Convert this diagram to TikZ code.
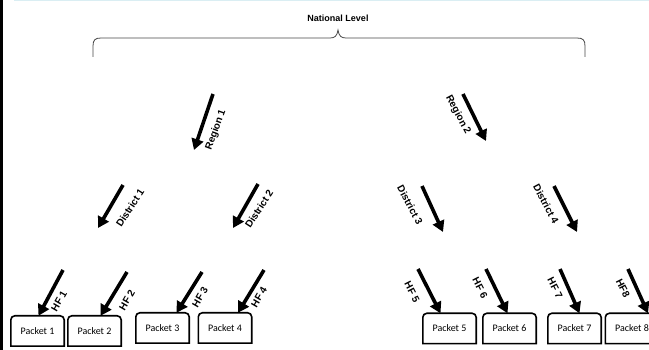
\documentclass[tikz,border=0pt]{standalone}
\usepackage{fontspec}
\setmainfont{Liberation Sans}
\newfontfamily\packetfont{Carlito}
\usetikzlibrary{arrows.meta,positioning}
\definecolor{framecyan}{RGB}{218,238,243}
\definecolor{bracegray}{RGB}{70,70,70}
\tikzset{
	>=Latex,
	flow/.style={
		-{Triangle[length=11pt,width=12pt]},
		line width=3.6pt
	},
	lvl/.style={
		font=\bfseries\fontsize{10}{12}\selectfont,
		inner sep=0pt
	},
	packet/.style={
		minimum width=53pt,
		minimum height=30pt,
		inner sep=0pt,
		font=\packetfont\fontsize{10}{12}\selectfont
	},
	pktline/.style={
		line width=1.6pt
	}
}

\begin{document}
\begin{tikzpicture}[x=1pt,y=-1pt]
	\useasboundingbox (0,0) rectangle (649,350);
	
	% Frame
	\fill[framecyan] (14,0) rectangle (649,1.5);
	\fill[black] (0,0) rectangle (3,350);
	
	% National level
	\node[font=\bfseries\fontsize{9}{11}\selectfont,inner sep=0pt] (nat) at (338,18) {National Level};
	\coordinate (braceL) at (93,57);
	\coordinate (braceM) at (338,30);
	\coordinate (braceR) at (585,57);
	\draw[bracegray,line width=0.8pt] (braceL) -- (93,46) .. controls (93,40) and (95,38) .. (101,38)
	-- (330,38) .. controls (335,38) and (337,36) .. (braceM)
	.. controls (339,36) and (341,38) .. (346,38) -- (577,38)
	.. controls (583,38) and (585,40) .. (585,46) -- (braceR);
	
	% Regions
	\coordinate (reg1s) at (213,94);
	\coordinate (reg1e) at (194,150);
	\coordinate (reg2s) at (463,94);
	\coordinate (reg2e) at (486,141);
	\draw[flow] (reg1s) -- (reg1e);
	\draw[flow] (reg2s) -- (reg2e);
	\node[lvl,rotate=70] (reg1) at (216,130) {Region 1};
	\node[lvl,rotate=-62] (reg2) at (458,115) {Region 2};
	
	% Districts
	\coordinate (dis1s) at (123,185);
	\coordinate (dis1e) at (98,228);
	\coordinate (dis2s) at (258,184);
	\coordinate (dis2e) at (233,228);
	\coordinate (dis3s) at (422,186);
	\coordinate (dis3e) at (443,232);
	\coordinate (dis4s) at (554,186);
	\coordinate (dis4e) at (577,232);
	\draw[flow] (dis1s) -- (dis1e);
	\draw[flow] (dis2s) -- (dis2e);
	\draw[flow] (dis3s) -- (dis3e);
	\draw[flow] (dis4s) -- (dis4e);
	\node[lvl,rotate=57] (dis1) at (130,208) {District 1};
	\node[lvl,rotate=57] (dis2) at (259,209) {District 2};
	\node[lvl,rotate=-62] (dis3) at (410,205) {District 3};
	\node[lvl,rotate=-62] (dis4) at (546,204) {District 4};
	
	% Packets
	\node[packet] (p1) at (37.5,331) {Packet 1};
	\node[packet] (p2) at (94.5,331) {Packet 2};
	\node[packet] (p3) at (162.5,328) {Packet 3};
	\node[packet] (p4) at (225,328) {Packet 4};
	\node[packet] (p5) at (449.5,328.5) {Packet 5};
	\node[packet] (p6) at (509.5,328.5) {Packet 6};
	\node[packet] (p7) at (574.5,328.5) {Packet 7};
	\node[packet] (p8) at (632,328.5) {Packet 8};
	\foreach \p in {p1,p2,p3,p4,p5,p6,p7,p8}
	\draw[pktline] (\p.south west) [rounded corners=4pt] -- (\p.north west) -- (\p.north east) [sharp corners] -- (\p.south east) -- cycle;
	
	% Health facilities
	\coordinate (hf1) at (63,270);
	\coordinate (hf2) at (127,272);
	\coordinate (hf3) at (202,272);
	\coordinate (hf4) at (264,270);
	\coordinate (hf5) at (418,269);
	\coordinate (hf6) at (486,269);
	\coordinate (hf7) at (560,269);
	\coordinate (hf8) at (628,269);
	\draw[flow] (hf1) -- ([xshift=1pt]p1.north);
	\draw[flow] (hf2) -- ([xshift=6pt]p2.north);
	\draw[flow] (hf3) -- ([xshift=14pt]p3.north);
	\draw[flow] (hf4) -- ([xshift=13pt]p4.north);
	\draw[flow] (hf5) -- ([xshift=-9pt]p5.north);
	\draw[flow] (hf6) -- ([xshift=-2pt]p6.north);
	\draw[flow] (hf7) -- ([xshift=5pt]p7.north);
	\draw[flow] (hf8) -- ([xshift=16pt]p8.north);
	\node[lvl,rotate=60] (hf1l) at (59,301) {HF 1};
	\node[lvl,rotate=60] (hf2l) at (127,300) {HF 2};
	\node[lvl,rotate=60] (hf3l) at (200,297) {HF 3};
	\node[lvl,rotate=60] (hf4l) at (259,297) {HF 4};
	\node[lvl,rotate=-63] (hf5l) at (412,292) {HF 5};
	\node[lvl,rotate=-63] (hf6l) at (480,288) {HF 6};
	\node[lvl,rotate=-63] (hf7l) at (555,288) {HF 7};
	\node[lvl,rotate=-63] (hf8l) at (623,288) {HF8};
	
\end{tikzpicture}
\end{document}
